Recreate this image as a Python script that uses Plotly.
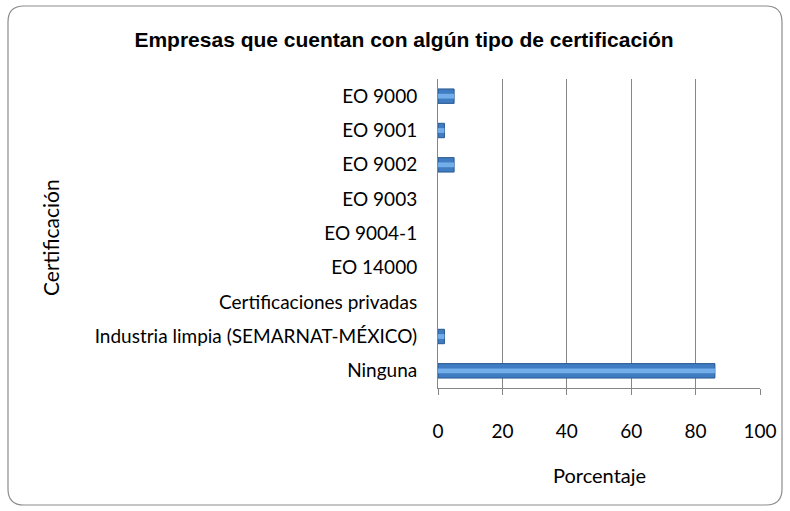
import plotly.graph_objects as go

categories = ["EO 9000", "EO 9001", "EO 9002", "EO 9003", "EO 9004-1", "EO 14000",
              "Certificaciones privadas", "Industria limpia (SEMARNAT-MÉXICO)", "Ninguna"]
values = [5, 2, 5, 0, 0, 0, 0, 2, 86]
x_ticks = [0, 20, 40, 60, 80, 100]

title = "Empresas que cuentan con algún tipo de certificación"
x_title = "Porcentaje"
y_title = "Certificación"

W, H = 790, 511
L, R, T, B = 438, 760, 79, 388

def px(x):
    return (x - L) / (R - L)

def py(y):
    return (B - y) / (B - T)

fig = go.Figure()
fig.add_trace(go.Bar(
    y=categories, x=values, orientation="h", width=0.42,
    marker=dict(color="#3F7CC2",
                line=dict(color="#2A5890", width=[1 if v > 0 else 0 for v in values])),
    hoverinfo="x+y",
))
fig.add_trace(go.Bar(
    y=categories, x=values, orientation="h", width=0.14,
    marker=dict(color="#74AEEA", line=dict(width=0)),
    hoverinfo="skip",
))

# rounded border
x0, x1, y0, y1, r = 8, 782, 6, 505, 16
path = (f"M {px(x0+r)},{py(y0)} L {px(x1-r)},{py(y0)} Q {px(x1)},{py(y0)} {px(x1)},{py(y0+r)} "
        f"L {px(x1)},{py(y1-r)} Q {px(x1)},{py(y1)} {px(x1-r)},{py(y1)} "
        f"L {px(x0+r)},{py(y1)} Q {px(x0)},{py(y1)} {px(x0)},{py(y1-r)} "
        f"L {px(x0)},{py(y0+r)} Q {px(x0)},{py(y0)} {px(x0+r)},{py(y0)} Z")
fig.add_shape(type="path", path=path, xref="paper", yref="paper",
              line=dict(color="#8C8C8C", width=1.2), layer="below")

font_lbl = "Lato, Carlito, Calibri, sans-serif"

fig.update_layout(
    width=W, height=H,
    margin=dict(l=L, r=W - R, t=T, b=H - B),
    paper_bgcolor="white", plot_bgcolor="white",
    showlegend=False,
    barmode="overlay",
    title=dict(text="<b>" + title + "</b>", x=404 / W, xanchor="center",
               y=1 - 40 / H, yanchor="middle",
               font=dict(family="Liberation Sans, Arial, sans-serif", size=21, color="black")),
    xaxis=dict(range=[0, 100], tickvals=x_ticks, showgrid=True, gridcolor="#868686",
               gridwidth=1, showline=True, linecolor="#868686", ticks="outside",
               ticklen=6, tickcolor="#868686", zeroline=False,
               tickfont=dict(family=font_lbl, size=19, color="black"),
               ticklabelstandoff=20, fixedrange=True),
    yaxis=dict(categoryorder="array", categoryarray=categories[::-1],
               showline=True, linecolor="#868686", ticks="", showgrid=False,
               tickfont=dict(family=font_lbl, size=19, color="black"),
               ticklabelstandoff=16, fixedrange=True),
    annotations=[
        dict(text=x_title, x=px(599), y=py(475), xref="paper", yref="paper",
             showarrow=False, font=dict(family=font_lbl, size=20, color="black"),
             xanchor="center", yanchor="middle"),
        dict(text=y_title, x=px(50), y=py(238), xref="paper", yref="paper",
             showarrow=False, textangle=-90, font=dict(family=font_lbl, size=21, color="black"),
             xanchor="center", yanchor="middle"),
    ],
)

fig.write_html("out.html", post_script="document.body.style.margin='0';",
               config={"displayModeBar": False})
